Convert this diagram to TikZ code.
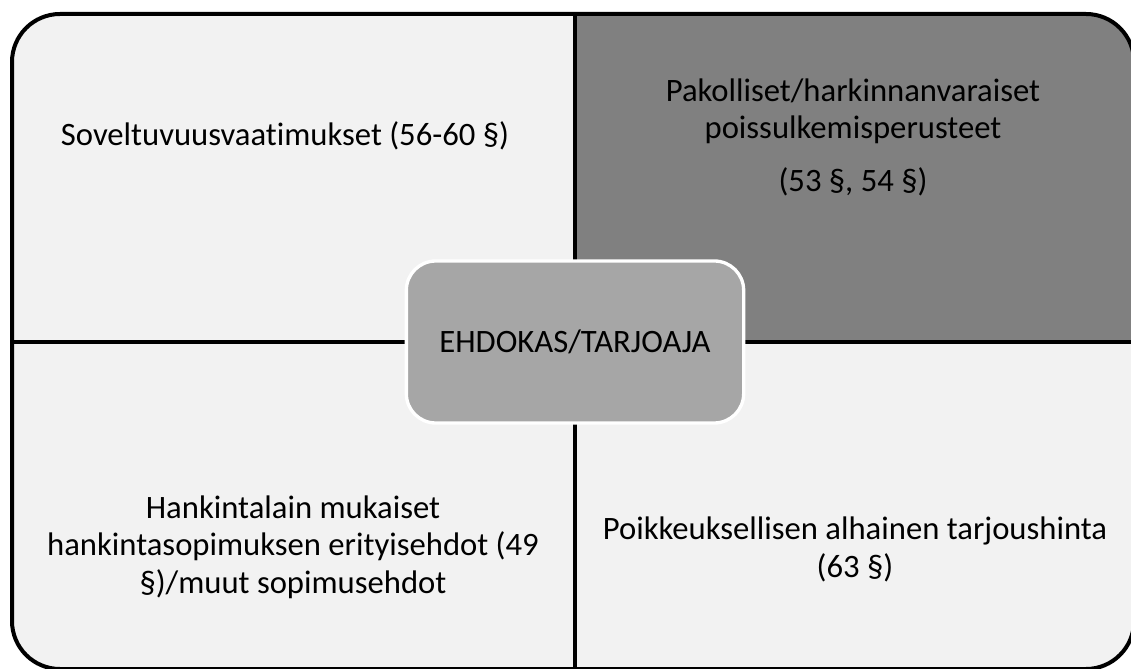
\documentclass[tikz,border=0pt]{standalone}
\usepackage{fontspec}
\setmainfont{Carlito}[Ligatures=NoCommon]
\usepackage{tikz}
\usetikzlibrary{positioning}

\definecolor{paleq}{HTML}{F2F2F2}
\definecolor{darkq}{HTML}{808080}
\definecolor{hubq}{HTML}{A6A6A6}

\begin{document}
\begin{tikzpicture}[x=0.75pt,y=0.75pt,font=\fontsize{24.5}{28}\selectfont]
  \tikzstyle{rim}=[line width=3pt,rounded corners=36pt]
  \tikzstyle{divider}=[line width=3.5pt]
  \tikzstyle{quadtext}=[anchor=base,align=center,inner sep=0pt]
  \tikzstyle{hub}=[draw=white,fill=hubq,line width=2.5pt,rounded corners=22pt,minimum width=253pt,minimum height=121.5pt]
	\clip (0,0) rectangle (1131,668);
	\begin{scope}
		\clip[rounded corners=36pt] (12,-1) rectangle (1134,654);
		\fill[paleq] (12,-1) rectangle (1134,654);
		\fill[darkq] (575,326) rectangle (1134,654);
	\end{scope}
	\draw[rim] (12,-1) rectangle (1134,654);
	\coordinate (n) at (575,654);
	\coordinate (s) at (575,-1);
	\coordinate (w) at (12,326);
	\coordinate (e) at (1134,326);
	\draw[divider] (n) -- (s);
	\draw[divider] (w) -- (e);
	\node[hub] (hub) at (575,326) {EHDOKAS/TARJOAJA};
	\node[quadtext] (fit) at (285,522) {Soveltuvuusvaatimukset (56-60 §)};
	\node[quadtext] (excl) at (853,476) {Pakolliset/harkinnanvaraiset\\poissulkemisperusteet\\[12pt](53 §, 54 §)};
	\node[quadtext] (terms) at (293,75) {Hankintalain mukaiset\\hankintasopimuksen erityisehdot (49\\§)/muut sopimusehdot};
	\node[quadtext] (price) at (855,91) {Poikkeuksellisen alhainen tarjoushinta\\(63 §)};
\end{tikzpicture}
\end{document}
